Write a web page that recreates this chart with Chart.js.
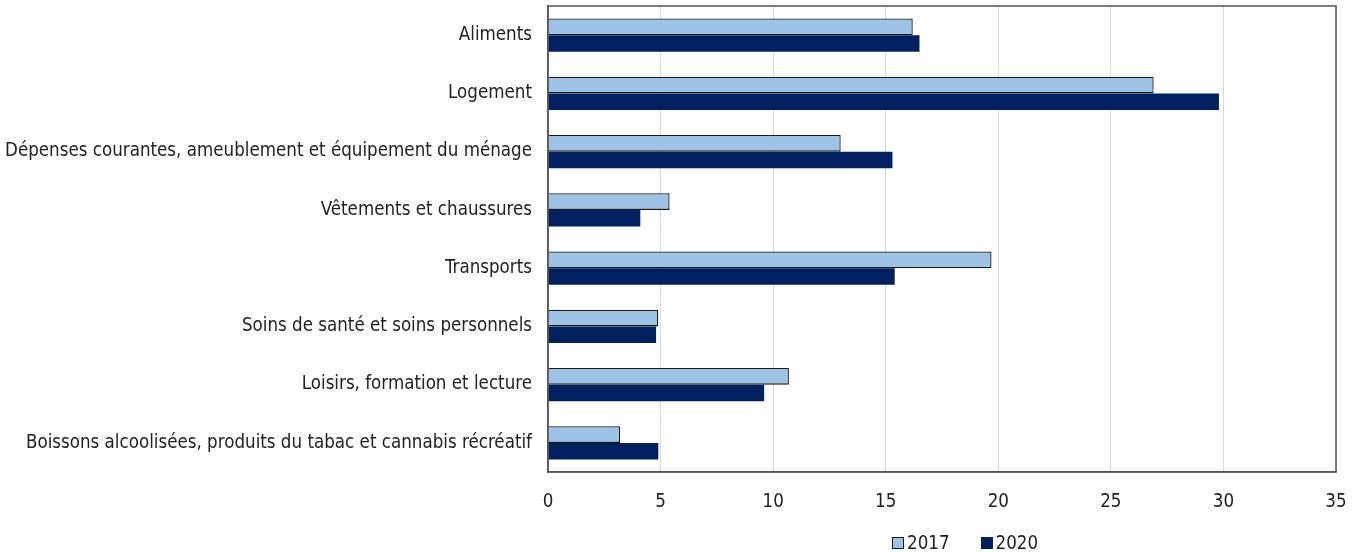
<!DOCTYPE html>
<html>
<head>
<meta charset="utf-8">
<script src="https://cdn.jsdelivr.net/npm/chart.js@4/dist/chart.umd.min.js"></script>
<style>
  html, body { margin: 0; padding: 0; background: #fff; }
  #wrap { position: relative; width: 1356px; height: 552px; }
  #legend {
    position: absolute; left: 892px; top: 533px;
    display: flex; gap: 31px;
    font: 18.6px 'Liberation Sans Narrow', 'DejaVu Sans Condensed', sans-serif;
    color: #222; line-height: 20px;
  }
  #legend span.item { display: flex; align-items: center; }
  #legend i { display: inline-block; width: 12px; height: 12px; margin-right: 3px; box-sizing: border-box; }
</style>
</head>
<body>
<div id="wrap">
  <canvas id="chart" width="1356" height="552"></canvas>
  <div id="legend"></div>
</div>
<script>
// ── Données ────────────────────────────────────────────────
const categories = [
  'Aliments',
  'Logement',
  'Dépenses courantes, ameublement et équipement du ménage',
  'Vêtements et chaussures',
  'Transports',
  'Soins de santé et soins personnels',
  'Loisirs, formation et lecture',
  'Boissons alcoolisées, produits du tabac et cannabis récréatif',
];
const values2017 = [16.2, 26.9, 13.0, 5.4, 19.7, 4.9, 10.7, 3.2];
const values2020 = [16.5, 29.8, 15.3, 4.1, 15.4, 4.8, 9.6, 4.9];
const xTicks = [0, 5, 10, 15, 20, 25, 30, 35];

const FONT = "'Liberation Sans Narrow', 'DejaVu Sans Condensed', sans-serif";

// Cadre autour de la zone de tracé
const frame = {
  id: 'frame',
  afterDraw(chart) {
    const { ctx, chartArea: a } = chart;
    ctx.save();
    ctx.strokeStyle = '#555';
    ctx.lineWidth = 1.5;
    ctx.strokeRect(a.left, a.top, a.right - a.left, a.bottom - a.top);
    ctx.restore();
  },
};

// pas de marge automatique pour les étiquettes qui débordent
function noPad(s) {
  s.paddingTop = 0; s.paddingBottom = 0; s.paddingLeft = 0; s.paddingRight = 0;
}

const chart = new Chart(document.getElementById('chart'), {
  type: 'bar',
  data: {
    labels: categories,
    datasets: [
      { label: '2017', data: values2017, backgroundColor: '#9DC3E6', borderColor: '#1a1a1a', borderWidth: 1.3 },
      { label: '2020', data: values2020, backgroundColor: '#002060', borderColor: '#002060', borderWidth: 0 },
    ],
  },
  options: {
    indexAxis: 'y',
    responsive: false,
    animation: false,
    categoryPercentage: 0.57,
    barPercentage: 1,
    layout: { padding: { top: 6, right: 20, left: 0, bottom: 0 } },
    plugins: { legend: { display: false }, tooltip: { enabled: false } },
    scales: {
      x: {
        min: 0, max: 35,
        afterBuildTicks: s => { s.ticks = xTicks.map(v => ({ value: v })); },
        afterFit: s => { s.height = 80; noPad(s); },
        grid: { color: '#d9d9d9', drawTicks: false },
        border: { color: '#555', width: 1.5 },
        ticks: { padding: 19, color: '#222', font: { family: FONT, size: 18.6 } },
      },
      y: {
        afterFit: s => { s.width = 548; noPad(s); },
        grid: { display: false, drawTicks: false },
        border: { color: '#555', width: 1.5 },
        ticks: { padding: 16, color: '#222', font: { family: FONT, size: 18.6 } },
      },
    },
  },
  plugins: [frame],
});

// Légende HTML tirée des jeux de données
const legend = document.getElementById('legend');
chart.data.datasets.forEach(ds => {
  const item = document.createElement('span');
  item.className = 'item';
  const box = document.createElement('i');
  box.style.background = ds.backgroundColor;
  if (ds.borderWidth) box.style.border = '1px solid ' + ds.borderColor;
  item.appendChild(box);
  item.appendChild(document.createTextNode(ds.label));
  legend.appendChild(item);
});
</script>
</body>
</html>
